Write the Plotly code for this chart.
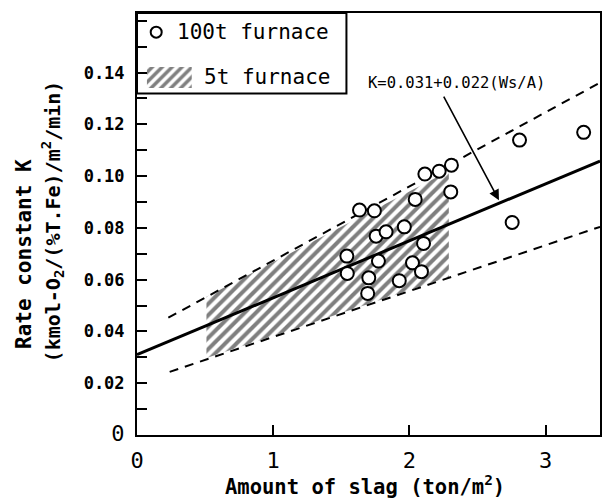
import plotly.graph_objects as go

# ---- data ----
slag_100t = [1.634, 1.743, 2.114, 2.219, 2.309, 2.304, 2.043, 1.756, 1.829, 1.963, 2.104,
             1.541, 1.773, 2.023, 2.089, 1.544, 1.702, 1.926, 1.694, 2.809, 3.280, 2.755]
k_100t = [0.0869, 0.0866, 0.1008, 0.1019, 0.1042, 0.0939, 0.0910, 0.0768, 0.0785, 0.0804, 0.0740,
          0.0691, 0.0672, 0.0665, 0.0631, 0.0624, 0.0607, 0.0596, 0.0547, 0.1139, 0.1169, 0.0821]

# regression K = a + b * Ws/A
fit_a = 0.031
fit_b = 0.022
fit_x = [0.0, 3.40]
fit_y = [fit_a + fit_b * v for v in fit_x]

upper_x = [0.23, 3.40]
upper_y = [0.0453, 0.1361]
lower_x = [0.24, 3.40]
lower_y = [0.0244, 0.0804]

# 5t furnace hatched region
hatch_x = [0.51, 2.29, 2.29, 0.51, 0.51]
hatch_y = [0.0534, 0.102, 0.061, 0.0297, 0.0534]

x_ticks = [0, 1, 2, 3]
y_ticks = [0, 0.02, 0.04, 0.06, 0.08, 0.10, 0.12, 0.14]
y_ticklabels = ["<span style='font-size:22px;font-weight:normal'>0</span>",
                "0.02", "0.04", "0.06", "0.08", "0.10", "0.12", "0.14"]

# legend swatch
leg_hatch_x = [0.073, 0.402, 0.402, 0.073, 0.073]
leg_hatch_y = [0.134, 0.134, 0.1421, 0.1421, 0.134]
leg_circle_x = [0.141]
leg_circle_y = [0.1556]

MONO = "DejaVu Sans Mono"

fig = go.Figure()

# hatched region
fig.add_trace(go.Scatter(
    x=hatch_x, y=hatch_y, mode="lines", fill="toself",
    line=dict(width=0, color="rgba(0,0,0,0)"),
    fillcolor="white",
    fillpattern=dict(shape="/", size=8, solidity=0.5, fgcolor="black", bgcolor="white"),
    showlegend=False, hoverinfo="skip"))

# dashed confidence lines
for xs, ys in [(upper_x, upper_y), (lower_x, lower_y)]:
    fig.add_trace(go.Scatter(x=xs, y=ys, mode="lines",
                             line=dict(color="black", width=2, dash="9px,7px"),
                             showlegend=False, hoverinfo="skip"))

# regression line
fig.add_trace(go.Scatter(x=fit_x, y=fit_y, mode="lines",
                         line=dict(color="black", width=3),
                         showlegend=False, hoverinfo="skip"))

# 100t furnace points
fig.add_trace(go.Scatter(x=slag_100t, y=k_100t, mode="markers",
                         marker=dict(symbol="circle", size=13, color="white",
                                     line=dict(color="black", width=2)),
                         showlegend=False))

# legend swatches
fig.add_trace(go.Scatter(
    x=leg_hatch_x, y=leg_hatch_y, mode="lines", fill="toself",
    line=dict(width=0, color="rgba(0,0,0,0)"), fillcolor="white",
    fillpattern=dict(shape="/", size=7, solidity=0.5, fgcolor="black", bgcolor="white"),
    showlegend=False, hoverinfo="skip"))
fig.add_trace(go.Scatter(x=leg_circle_x, y=leg_circle_y, mode="markers",
                         marker=dict(symbol="circle", size=11, color="white",
                                     line=dict(color="black", width=2)),
                         showlegend=False, hoverinfo="skip"))

# legend box
fig.add_shape(type="rect", xref="x", yref="y", x0=0, x1=1.538, y0=0.1319, y1=0.163,
              line=dict(color="black", width=2), fillcolor="rgba(0,0,0,0)", layer="below")

annots = [
    dict(x=0.281, y=0.1556, xref="x", yref="y", text="100t furnace", showarrow=False,
         xanchor="left", yanchor="middle", font=dict(family=MONO, size=21, color="black")),
    dict(x=0.477, y=0.1382, xref="x", yref="y", text="5t furnace", showarrow=False,
         xanchor="left", yanchor="middle", font=dict(family=MONO, size=21, color="black")),
    dict(x=1.685, y=0.1359, xref="x", yref="y", text="K=0.031+0.022(Ws/A)", showarrow=False,
         xanchor="left", yanchor="middle", font=dict(family=MONO, size=15.5, color="black")),
    dict(x=2.658, y=0.0907, xref="x", yref="y", text="", showarrow=True,
         ax=-56, ay=-105, arrowhead=2, arrowsize=1.3, arrowwidth=1.6, arrowcolor="black"),
    dict(x=0.4914, y=-0.119, xref="paper", yref="paper", text="Amount of slag (ton/m<sup>2</sup>)",
         showarrow=False, xanchor="center", yanchor="middle",
         font=dict(family=MONO, size=20.5, color="black", weight="bold")),
    dict(x=-0.2452, y=0.430, xref="paper", yref="paper", text="Rate constant K",
         showarrow=False, xanchor="center", yanchor="middle", textangle=-90,
         font=dict(family=MONO, size=21, color="black", weight="bold")),
    dict(x=-0.1828, y=0.507, xref="paper", yref="paper",
         text="(kmol-O<sub>2</sub>/(%T.Fe)/m<sup>2</sup>/min)",
         showarrow=False, xanchor="center", yanchor="middle", textangle=-90,
         font=dict(family=MONO, size=20, color="black", weight="bold")),
]

fig.update_layout(
    width=603, height=502,
    margin=dict(l=137, r=1, t=13, b=67),
    plot_bgcolor="white", paper_bgcolor="white",
    annotations=annots,
    xaxis=dict(range=[0, 3.40], tickvals=x_ticks, ticktext=[str(v) for v in x_ticks],
               ticks="inside", ticklen=10, tickwidth=2, tickcolor="black",
               showline=True, linecolor="black", linewidth=2, mirror=True,
               showgrid=False, zeroline=False, ticklabelstandoff=5,
               tickfont=dict(family=MONO, size=22, color="black")),
    yaxis=dict(range=[0, 0.163], tickvals=y_ticks, ticktext=y_ticklabels,
               ticks="inside", ticklen=10, tickwidth=2, tickcolor="black",
               minor=dict(dtick=0.01, tick0=0, ticks="inside", ticklen=10, tickwidth=2,
                          tickcolor="black", showgrid=False),
               showline=True, linecolor="black", linewidth=2, mirror=True,
               showgrid=False, zeroline=False, ticklabelstandoff=7,
               tickfont=dict(family=MONO, size=17, color="black", weight="bold")),
)

fig.write_html("out.html")
